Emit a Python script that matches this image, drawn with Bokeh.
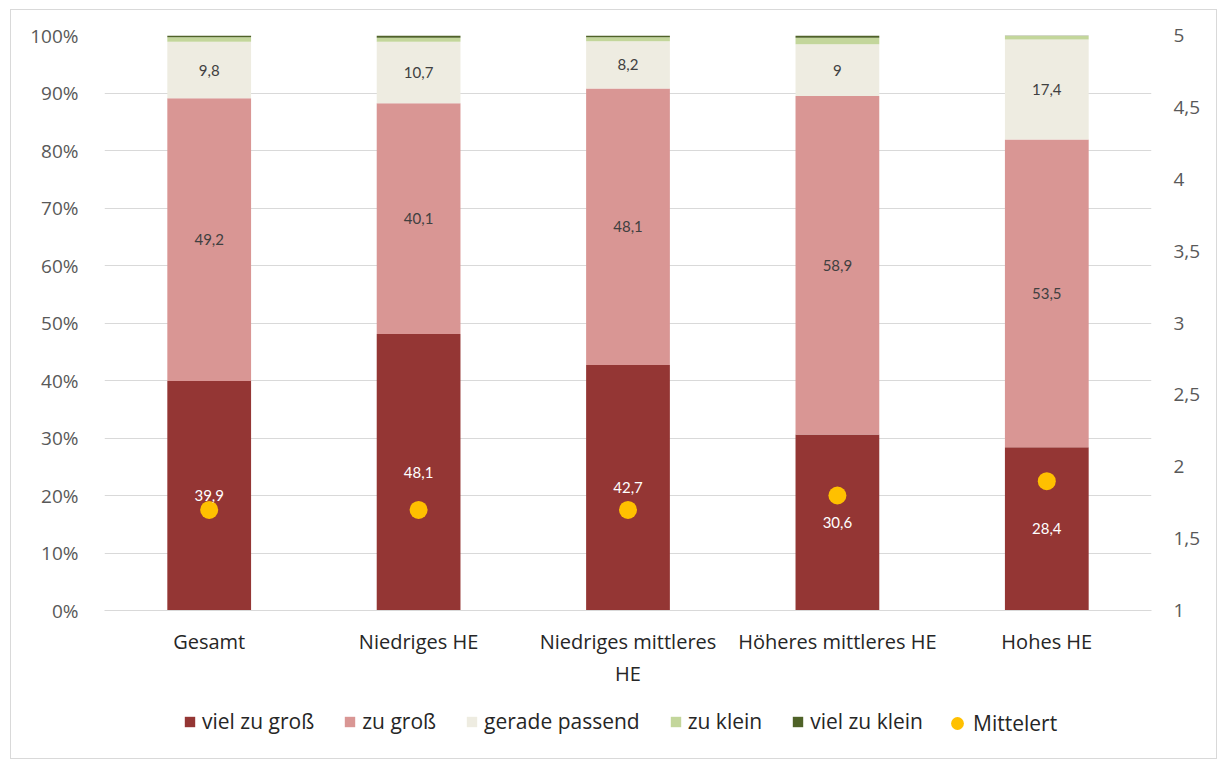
from bokeh.plotting import figure
from bokeh.layouts import column
from bokeh.models import (Range1d, LinearAxis, FixedTicker, Legend, LegendItem,
                          ColumnDataSource)
from bokeh.core.properties import value
from bokeh.embed import file_html
from bokeh.resources import INLINE

categories = ["Gesamt", "Niedriges HE", "Niedriges mittleres\nHE", "Höheres mittleres HE", "Hohes HE"]
series_names = ["viel zu groß", "zu groß", "gerade passend", "zu klein", "viel zu klein"]
mean_name = "Mittelert"
viel_zu_gross = [39.9, 48.1, 42.7, 30.6, 28.4]
zu_gross = [49.2, 40.1, 48.1, 58.9, 53.5]
gerade_passend = [9.8, 10.7, 8.2, 9.0, 17.4]
zu_klein = [0.8, 0.7, 0.7, 1.1, 0.6]
viel_zu_klein = [0.3, 0.4, 0.3, 0.4, 0.1]
mittelwert = [1.7, 1.7, 1.7, 1.8, 1.9]
left_ticks = [0, 10, 20, 30, 40, 50, 60, 70, 80, 90, 100]
right_ticks = [1, 1.5, 2, 2.5, 3, 3.5, 4, 4.5, 5]

colors = ["#943634", "#D99694", "#EEECE1", "#C3D69B", "#4F6228"]
dot_color = "#FFC000"
FONT = "Open Sans"
LBL_FONT = "Lato"
W = 1205

xs = list(range(len(categories)))
data = {"x": xs, "s0": viel_zu_gross, "s1": zu_gross, "s2": gerade_passend,
        "s3": zu_klein, "s4": viel_zu_klein, "m": mittelwert}
src = ColumnDataSource(data)

p = figure(width=W, height=679, output_backend="svg", toolbar_location=None,
           x_range=Range1d(-0.5, len(categories) - 0.5), y_range=Range1d(0, 100),
           min_border_left=93, min_border_right=65, min_border_top=25, min_border_bottom=79)
p.outline_line_color = None
p.extra_y_ranges = {"right": Range1d(1, 5)}

renderers = p.vbar_stack(["s0", "s1", "s2", "s3", "s4"], x="x", width=0.4, color=colors,
                         line_color=None, source=src)
dots = p.scatter(x="x", y="m", y_range_name="right", size=18, color=dot_color,
                 line_color=None, source=src)

# data labels
series = [viel_zu_gross, zu_gross, gerade_passend]
lx, ly, lt, lc = [], [], [], []
for i in range(len(categories)):
    base = 0.0
    for k, s in enumerate(series):
        v = s[i]
        lx.append(i)
        ly.append(base + v / 2)
        lt.append(f"{v:g}".replace(".", ","))
        lc.append("#FFFFFF" if k == 0 else "#404040")
        base += v
p.text(x=lx, y=ly, text=lt, text_color=lc, text_align="center", text_baseline="middle",
       text_font=value(LBL_FONT), text_font_size="15px")

# axes
p.yaxis.ticker = FixedTicker(ticks=left_ticks)
p.yaxis.major_label_overrides = {t: f"{t}%" for t in left_ticks}
ax_r = LinearAxis(y_range_name="right", ticker=FixedTicker(ticks=right_ticks))
ax_r.major_label_overrides = {t: f"{t:g}".replace(".", ",") for t in right_ticks}
p.add_layout(ax_r, "right")
for ax in [p.yaxis[0], ax_r]:
    ax.axis_line_color = None
    ax.major_tick_line_color = None
    ax.minor_tick_line_color = None
    ax.major_label_text_font = FONT
    ax.major_label_text_font_size = "19px"
    ax.major_label_text_color = "#595959"
p.yaxis[0].major_label_standoff = 20
ax_r.major_label_standoff = 16

p.xaxis.ticker = FixedTicker(ticks=xs)
p.xaxis.major_label_overrides = {i: c for i, c in enumerate(categories)}
p.xaxis.axis_line_color = "#d9d9d9"
p.xaxis.major_tick_line_color = None
p.xaxis.minor_tick_line_color = None
p.xaxis.major_label_text_font = FONT
p.xaxis.major_label_text_font_size = "20px"
p.xaxis.major_label_text_color = "#262626"
p.xaxis.major_label_standoff = 11

p.xgrid.grid_line_color = None
p.ygrid.grid_line_color = "#d9d9d9"
p.ygrid.ticker = FixedTicker(ticks=left_ticks)

# legend strip below the chart (dummy one-point renderers, outside the visible range)
q = figure(width=W, height=69, output_backend="svg", toolbar_location=None,
           x_range=Range1d(0, 1), y_range=Range1d(0, 1), x_axis_location=None,
           y_axis_location=None, min_border=0)
q.outline_line_color = None
q.grid.grid_line_color = None
leg_bars = [q.vbar(x=[-5], top=[-5], width=0.1, color=colors[k], line_color=None) for k in range(5)]
leg_dot = q.scatter(x=[-5], y=[-5], size=13, color=dot_color, line_color=None)

legend1 = Legend(items=[LegendItem(label=series_names[k], renderers=[leg_bars[k]]) for k in range(5)],
                 orientation="horizontal", location=(79, 23),
                 label_text_font=FONT, label_text_font_size="21px", label_text_color="#262626",
                 border_line_color=None, background_fill_alpha=0, glyph_width=13, glyph_height=13,
                 spacing=29, label_standoff=6, padding=0, margin=0, label_height=24)
legend2 = Legend(items=[LegendItem(label=mean_name, renderers=[leg_dot])],
                 orientation="horizontal", location=(837, 19),
                 label_text_font=FONT, label_text_font_size="21px", label_text_color="#262626",
                 border_line_color=None, background_fill_alpha=0, glyph_width=32, glyph_height=32,
                 label_standoff=0, padding=0, margin=0)
q.add_layout(legend1, "center")
q.add_layout(legend2, "center")

layout = column(p, q, spacing=0)
layout.margin = (9, 0, 0, 10)
layout.styles = {"border": "1px solid #d9d9d9"}

open("out.html", "w").write(file_html(layout, INLINE))
